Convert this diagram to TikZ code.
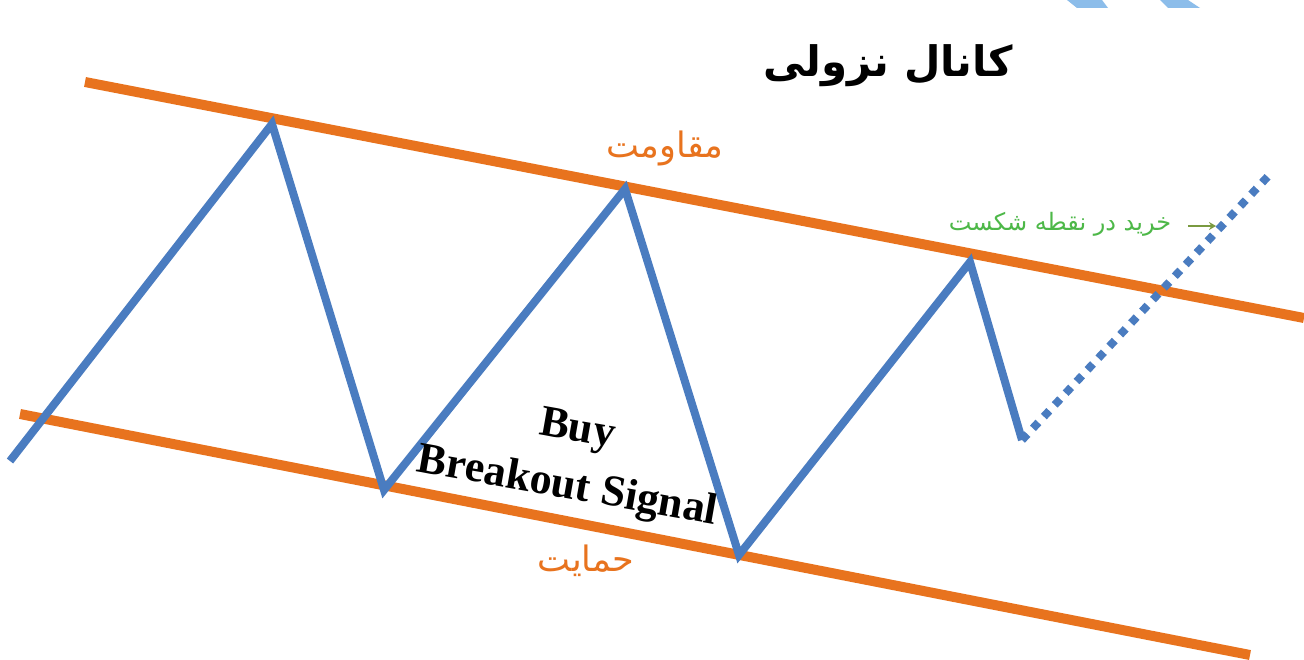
\documentclass[tikz,border=0pt]{standalone}
\usepackage{fontspec}
\setmainfont{Liberation Serif}
\newfontfamily\arabicfont[Script=Arabic]{DejaVu Sans}
\TeXXeTstate=1
\usetikzlibrary{arrows.meta}
\definecolor{chorange}{HTML}{E8731E}
\definecolor{chblue}{HTML}{4A7CC0}
\definecolor{chgreen}{HTML}{4DB848}
\definecolor{arrowgreen}{HTML}{7A9A40}
\definecolor{hatchblue}{HTML}{8CBDEA}
\tikzset{
  channel/.style={draw=chorange, line width=10pt},
  price/.style={draw=chblue, line width=8pt, line join=miter},
  future/.style={draw=chblue, line width=8pt, dash pattern=on 8pt off 8pt},
  fatext/.style={font=\arabicfont, inner sep=0pt},
}
\begin{document}
\begin{tikzpicture}[x=1pt,y=-1pt]
\useasboundingbox (0,0) rectangle (1304,660);
\fill[white] (0,0) rectangle (1304,660);
% decorative hatched shapes top right
\fill[hatchblue] (1067,0) -- (1102,0) -- (1108,8) -- (1077,8) -- cycle;
\fill[hatchblue] (1160,0) -- (1188,0) -- (1200,8) -- (1168,8) -- cycle;
% channel lines
\coordinate (r1) at (85,82);
\coordinate (r2) at (1304,318);
\coordinate (s1) at (20,414);
\coordinate (s2) at (1250,655);
\draw[channel] (r1) -- (r2);
\draw[channel] (s1) -- (s2);
% price path
\coordinate (p0) at (10,461);
\coordinate (p1) at (272,124);
\coordinate (p2) at (384,490);
\coordinate (p3) at (625,189);
\coordinate (p4) at (739,555);
\coordinate (p5) at (970,262);
\coordinate (p6) at (1022,440);
\coordinate (p7) at (1272,172);
\draw[price] (p0) -- (p1) -- (p2) -- (p3) -- (p4) -- (p5) -- (p6);
\draw[future] (p6) -- (p7);
% texts
\node[fatext, font=\arabicfont\bfseries\fontsize{42}{48}\selectfont] (title) at (888,66) {\beginR کانال نزولی\endR};
\node[fatext, text=chorange, font=\arabicfont\fontsize{35}{40}\selectfont] (res) at (665,148) {\beginR مقاومت\endR};
\node[fatext, text=chorange, font=\arabicfont\fontsize{35}{40}\selectfont] (sup) at (586,561) {\beginR حمایت\endR};
\node[fatext, text=chgreen, font=\arabicfont\fontsize{24}{28}\selectfont] (buy) at (1060,224) {\beginR خرید در نقطه شکست\endR};
\coordinate (a1) at (1188,226);
\coordinate (a2) at (1216,226);
\draw[arrowgreen, line width=2.5pt, -{Stealth[length=7pt,width=8pt]}] (a1) -- (a2);
\node[rotate=-10, align=center, font=\bfseries\fontsize{44}{58}\selectfont, inner sep=0pt] (sig) at (572,460) {Buy\\Breakout Signal};
\end{tikzpicture}
\end{document}
